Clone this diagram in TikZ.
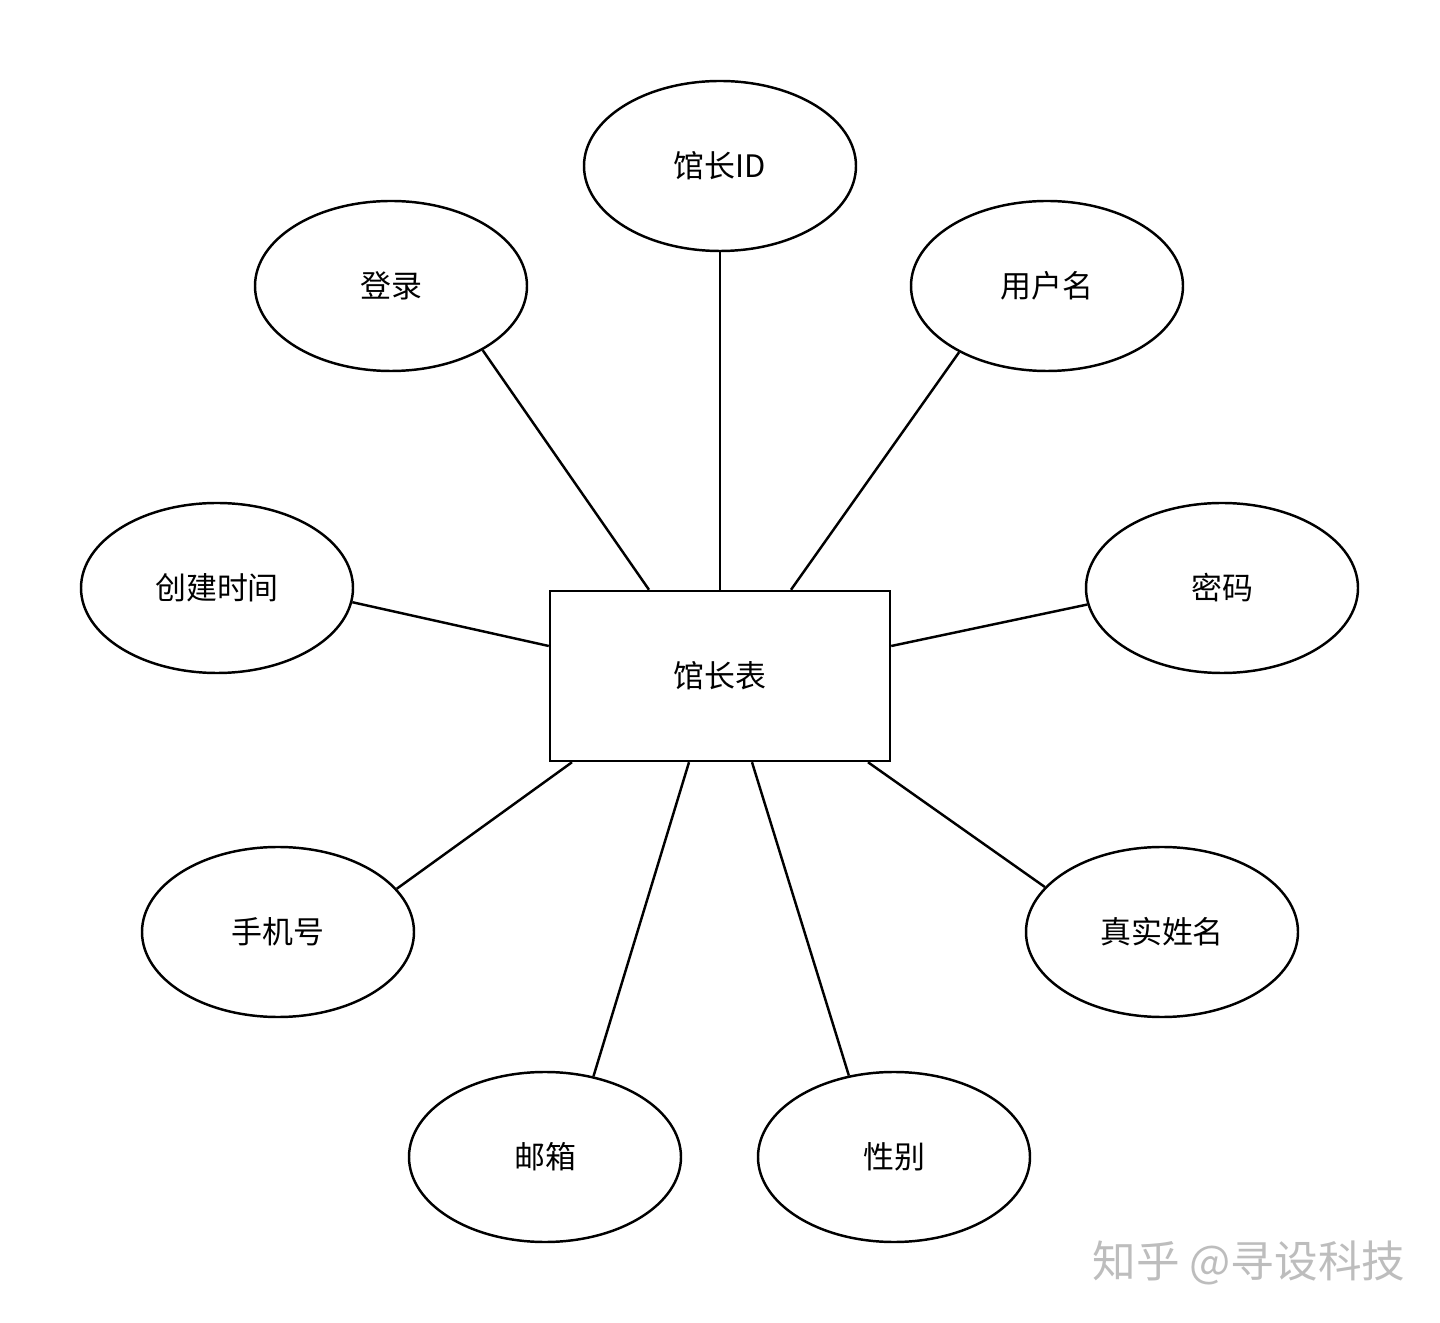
\documentclass[tikz,border=0pt]{standalone}
\usepackage{fontspec}
\usepackage{xcolor}
\usepackage{tikz}
\usetikzlibrary{shapes.geometric}
\setmainfont{Noto Sans CJK SC}
\definecolor{markGray}{HTML}{BDBDBD}

\begin{document}
\begin{tikzpicture}[
    attr/.style={draw, ellipse, line width=0.7pt, inner sep=0pt, minimum width=2.72cm, minimum height=1.70cm, font=\fontsize{8.8}{10}\selectfont},
    entity/.style={draw, rectangle, line width=0.7pt, inner sep=0pt, minimum width=3.40cm, minimum height=1.70cm, font=\fontsize{8.8}{10}\selectfont},
    link/.style={line width=0.7pt}]
  \useasboundingbox (0,0) rectangle (14.4,-13.23);

  \node[entity] (tbl) at (7.20,-6.76) {馆长表};

  \node[attr] (id)   at (7.20,-1.66)  {馆长ID};
  \node[attr] (dl)   at (3.91,-2.86)  {登录};
  \node[attr] (yhm)  at (10.47,-2.86) {用户名};
  \node[attr] (cjsj) at (2.17,-5.88)  {创建时间};
  \node[attr] (mm)   at (12.22,-5.88) {密码};
  \node[attr] (sjh)  at (2.78,-9.32)  {手机号};
  \node[attr] (zsxm) at (11.62,-9.32) {真实姓名};
  \node[attr] (yx)   at (5.45,-11.57) {邮箱};
  \node[attr] (xb)   at (8.94,-11.57) {性别};

  % attributes to the table
  \draw[link] (id.south) -- (tbl.north);
  \draw[link] (dl.-35.5) -- ([xshift=-0.71cm]tbl.north);
  \draw[link] (yhm.-143.6) -- ([xshift=0.71cm]tbl.north);
  \draw[link] (cjsj.-6.7) -- ([yshift=0.30cm]tbl.west);
  \draw[link] (mm.-173.2) -- ([yshift=0.30cm]tbl.east);
  \draw[link] (sjh.20.1) -- ([xshift=-1.48cm]tbl.south);
  \draw[link] (zsxm.159.7) -- ([xshift=1.48cm]tbl.south);
  \draw[link] (yx.59.6) -- ([xshift=-0.31cm]tbl.south);
  \draw[link] (xb.119.9) -- ([xshift=0.32cm]tbl.south);

  \node[text=markGray, font=\fontsize{12.4}{14}\selectfont] (mark) at (12.49,-12.63) {知乎 @寻设科技};
\end{tikzpicture}
\end{document}
